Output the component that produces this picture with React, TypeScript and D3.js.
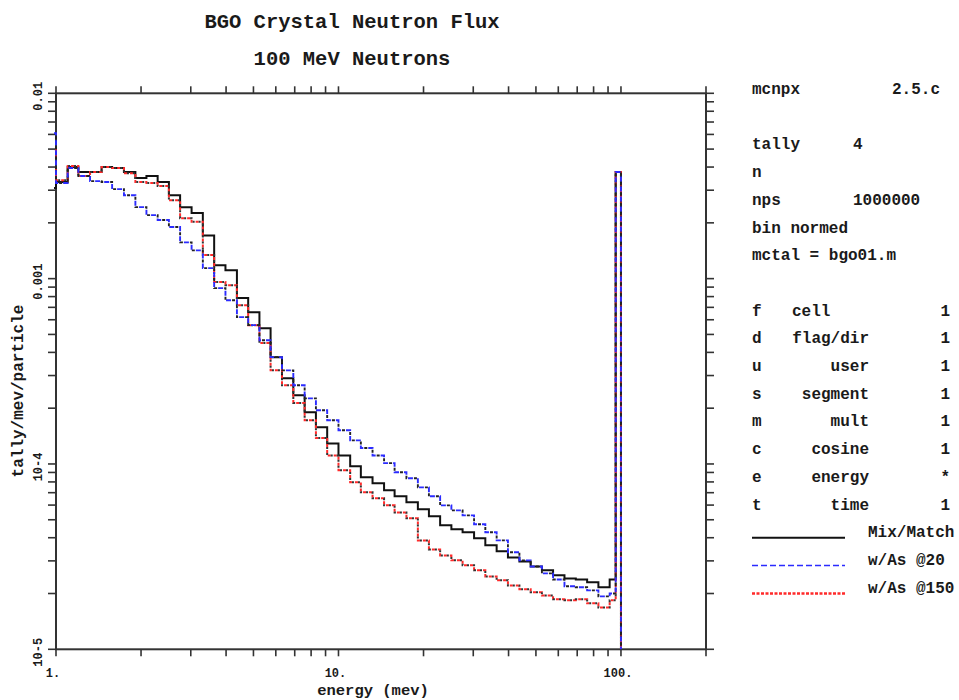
import React from 'react';
import * as d3 from 'd3';

// Energy bin edges (MeV); first bin lies just below the plotted range
const energyEdges = [0.90, 1.00, 1.10, 1.20, 1.32, 1.45, 1.58, 1.74, 1.91, 2.09, 2.29, 2.51, 2.75, 3.02, 3.31, 3.63, 3.98, 4.37, 4.79, 5.25, 5.75, 6.31, 6.92, 7.59, 8.32, 9.12, 10.0, 11.0, 12.0, 13.2, 14.5, 15.8, 17.4, 19.1, 20.9, 22.9, 25.1, 27.5, 30.2, 33.1, 36.3, 39.8, 43.7, 47.9, 52.5, 57.5, 63.1, 69.2, 75.9, 83.2, 91.2, 95.8, 100.0];

const mixMatch = [3.08e-3, 3.32e-3, 4.00e-3, 3.76e-3, 3.76e-3, 4.00e-3, 3.95e-3, 3.76e-3, 3.49e-3, 3.58e-3, 3.32e-3, 2.82e-3, 2.43e-3, 2.26e-3, 1.71e-3, 1.18e-3, 1.11e-3, 7.85e-4, 6.59e-4, 5.40e-4, 3.77e-4, 2.90e-4, 2.35e-4, 1.90e-4, 1.58e-4, 1.29e-4, 1.11e-4, 9.72e-5, 8.48e-5, 7.87e-5, 7.21e-5, 6.69e-5, 6.21e-5, 5.69e-5, 5.22e-5, 4.67e-5, 4.44e-5, 4.28e-5, 3.97e-5, 3.64e-5, 3.38e-5, 3.13e-5, 2.98e-5, 2.80e-5, 2.67e-5, 2.51e-5, 2.41e-5, 2.38e-5, 2.30e-5, 2.16e-5, 2.38e-5, 3.76e-3];

const wAs20 = [6.10e-3, 3.28e-3, 3.95e-3, 3.58e-3, 3.36e-3, 3.32e-3, 3.04e-3, 2.82e-3, 2.43e-3, 2.20e-3, 2.07e-3, 1.90e-3, 1.57e-3, 1.42e-3, 1.14e-3, 8.89e-4, 7.65e-4, 6.20e-4, 5.61e-4, 4.65e-4, 3.77e-4, 3.20e-4, 2.66e-4, 2.26e-4, 1.95e-4, 1.72e-4, 1.52e-4, 1.34e-4, 1.22e-4, 1.11e-4, 1.01e-4, 9.02e-5, 8.37e-5, 7.48e-5, 6.69e-5, 5.98e-5, 5.62e-5, 5.28e-5, 4.73e-5, 4.28e-5, 3.87e-5, 3.34e-5, 3.02e-5, 2.80e-5, 2.57e-5, 2.38e-5, 2.19e-5, 2.16e-5, 2.08e-5, 1.93e-5, 2.00e-5, 3.76e-3];

const wAs150 = [4.93e-3, 3.40e-3, 4.05e-3, 3.58e-3, 3.76e-3, 4.00e-3, 3.95e-3, 3.70e-3, 3.32e-3, 3.28e-3, 3.16e-3, 2.65e-3, 2.12e-3, 2.03e-3, 1.34e-3, 9.58e-4, 9.22e-4, 7.19e-4, 5.61e-4, 4.50e-4, 3.20e-4, 2.66e-4, 2.13e-4, 1.72e-4, 1.38e-4, 1.11e-4, 9.25e-5, 7.96e-5, 7.04e-5, 6.53e-5, 5.98e-5, 5.48e-5, 5.09e-5, 3.87e-5, 3.46e-5, 3.21e-5, 3.02e-5, 2.84e-5, 2.67e-5, 2.47e-5, 2.36e-5, 2.21e-5, 2.11e-5, 2.03e-5, 1.95e-5, 1.86e-5, 1.84e-5, 1.86e-5, 1.77e-5, 1.68e-5, 1.84e-5, 3.76e-3];

const xTickLabels = [{ v: 1, t: '1.' }, { v: 10, t: '10.' }, { v: 100, t: '100.' }];
const yTickLabels = [{ v: 1e-2, t: '0.01' }, { v: 1e-3, t: '0.001' }, { v: 1e-4, t: '10-4' }, { v: 1e-5, t: '10-5' }];

const titleLines = ['BGO Crystal Neutron Flux', '100 MeV Neutrons'];
const xTitle = 'energy (mev)';
const yTitle = 'tally/mev/particle';

const headerRows = [
  { row: 0, left: 'mcnpx', right: '2.5.c', mid: '' },
  { row: 2, left: 'tally', mid: '4', right: '' },
  { row: 3, left: 'n', mid: '', right: '' },
  { row: 4, left: 'nps', mid: '1000000', right: '' },
  { row: 5, left: 'bin normed', mid: '', right: '' },
  { row: 6, left: 'mctal = bgo01.m', mid: '', right: '' },
];
const binLetters = ['f', 'd', 'u', 's', 'm', 'c', 'e', 't'];
const binNames = ['cell', 'flag/dir', 'user', 'segment', 'mult', 'cosine', 'energy', 'time'];
const binValues = ['1', '1', '1', '1', '1', '1', '*', '1'];
const legendNames = ['Mix/Match', 'w/As @20', 'w/As @150'];

const W = 959, H = 700;
const PL = 56, PR = 706, PT = 93.3, PB = 649.3;
const FONT = "'Liberation Mono', 'DejaVu Sans Mono', monospace";
const FLOOR = 1e-7;

export default function App() {
  const x = d3.scaleLog().domain([1, 200]).range([PL, PR]);
  const y = d3.scaleLog().domain([1e-5, 1e-2]).range([PB, PT]);

  const xTicks: number[] = [];
  for (const dec of [1, 10, 100]) for (let m = 1; m <= 9; m++) { const v = m * dec; if (v >= 1 && v <= 200) xTicks.push(v); }
  const yTicks: number[] = [];
  for (const dec of [1e-5, 1e-4, 1e-3]) for (let m = 1; m <= 9; m++) yTicks.push(m * dec);
  yTicks.push(1e-2);

  const line = d3.line<[number, number]>().x(d => x(d[0])).y(d => y(d[1])).curve(d3.curveStepAfter);
  const stepPath = (vals: number[]) => {
    const pts: [number, number][] = vals.map((v, i) => [energyEdges[i], v] as [number, number]);
    pts.push([energyEdges[vals.length], vals[vals.length - 1]]);
    pts.push([energyEdges[vals.length], FLOOR]);
    return line(pts) || '';
  };

  const pBlack = stepPath(mixMatch);
  const pBlue = stepPath(wAs20);
  const pRed = stepPath(wAs150);

  const rowY = (k: number) => 94 + 27.7 * k;
  const txt = { fontFamily: FONT, fontWeight: 700 as const, fill: '#1a1a1a' };

  return (
    <svg width={W} height={H} style={{ position: 'absolute', left: 0, top: 0, background: '#fff' }}>
      <defs>
        <clipPath id="plotClip">
          <rect x={PL - 2} y={PT} width={PR - PL + 2} height={PB - PT} />
        </clipPath>
      </defs>

      {/* titles */}
      {titleLines.map((t, i) => (
        <text key={t} x={352} y={28 + i * 37} textAnchor="middle" fontSize={20.5} {...txt}>{t}</text>
      ))}

      {/* frame */}
      <rect x={PL} y={PT} width={PR - PL} height={PB - PT} fill="none" stroke="#333" strokeWidth={2} />

      {/* x ticks */}
      {xTicks.map(v => (
        <g key={'x' + v} stroke="#333" strokeWidth={1.6}>
          <line x1={x(v)} x2={x(v)} y1={PB} y2={PB + 7} />
          <line x1={x(v)} x2={x(v)} y1={PT} y2={PT - 7} />
        </g>
      ))}
      {/* y ticks */}
      {yTicks.map(v => (
        <g key={'y' + v} stroke="#333" strokeWidth={1.6}>
          <line x1={PL} x2={PL - 8} y1={y(v)} y2={y(v)} />
          <line x1={PR} x2={PR + 8} y1={y(v)} y2={y(v)} />
        </g>
      ))}

      {/* data */}
      <g clipPath="url(#plotClip)" fill="none">
        <path d={pBlack} stroke="#111" strokeWidth={2} />
        <path d={pRed} stroke="#ff2a2a" strokeWidth={2} strokeDasharray="3 3" />
        <path d={pRed} stroke="#333" strokeWidth={2} strokeDasharray="2 4" strokeDashoffset={-3} />
        <path d={pBlue} stroke="#2b2bff" strokeWidth={1.9} strokeDasharray="5 5" />
        <path d={pBlue} stroke="#222" strokeWidth={1.9} strokeDasharray="3 7" strokeDashoffset={-6} />
      </g>

      {/* tick labels */}
      {xTickLabels.map(d => (
        <text key={d.t} x={x(d.v) - 3} y={677} textAnchor="middle" fontSize={12} {...txt}>{d.t}</text>
      ))}
      {yTickLabels.map(d => (
        <text key={d.t} transform={`translate(42,${y(d.v) + 3}) rotate(-90)`} textAnchor="middle" fontSize={12} {...txt}>{d.t}</text>
      ))}

      {/* axis titles */}
      <text x={373} y={695} textAnchor="middle" fontSize={15.5} {...txt}>{xTitle}</text>
      <text transform={`translate(23,391) rotate(-90)`} textAnchor="middle" fontSize={16} {...txt}>{yTitle}</text>

      {/* info panel */}
      {headerRows.map(r => (
        <g key={'h' + r.row}>
          <text x={752} y={rowY(r.row)} fontSize={16} {...txt}>{r.left}</text>
          {r.mid && <text x={853} y={rowY(r.row)} fontSize={16} {...txt}>{r.mid}</text>}
          {r.right && <text x={940} y={rowY(r.row)} textAnchor="end" fontSize={16} {...txt}>{r.right}</text>}
        </g>
      ))}
      {binLetters.map((l, i) => (
        <g key={'b' + l}>
          <text x={752} y={rowY(8 + i)} fontSize={16} {...txt}>{l}</text>
          {i === 0
            ? <text x={792} y={rowY(8 + i)} fontSize={16} {...txt}>{binNames[i]}</text>
            : <text x={869} y={rowY(8 + i)} textAnchor="end" fontSize={16} {...txt}>{binNames[i]}</text>}
          <text x={950} y={rowY(8 + i)} textAnchor="end" fontSize={16} {...txt}>{binValues[i]}</text>
        </g>
      ))}

      {/* legend */}
      {legendNames.map((n, i) => (
        <text key={n} x={868} y={rowY(16 + i)} fontSize={16} {...txt}>{n}</text>
      ))}
      <line x1={752} x2={845} y1={rowY(16) + 0.5} y2={rowY(16) + 0.5} stroke="#111" strokeWidth={2} />
      <line x1={752} x2={845} y1={rowY(17) + 0.5} y2={rowY(17) + 0.5} stroke="#2b2bff" strokeWidth={1.5} strokeDasharray="6 3" />
      <line x1={752} x2={845} y1={rowY(18) + 1} y2={rowY(18) + 1} stroke="#ff2a2a" strokeWidth={2.5} strokeDasharray="3 1.5" />
    </svg>
  );
}
